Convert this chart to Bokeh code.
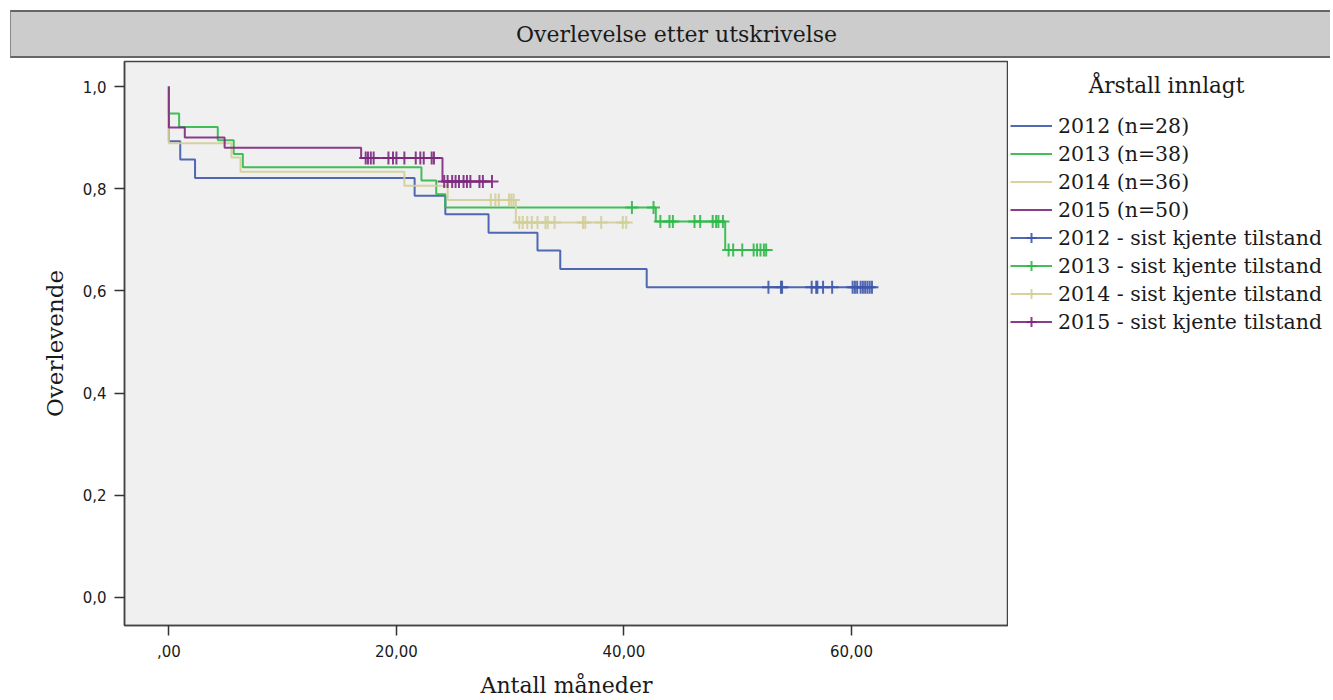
import numpy as np
from bokeh.plotting import figure
from bokeh.models import Legend, LegendItem, FixedTicker, Label, Range1d, Div
from bokeh.layouts import column, row
from bokeh.embed import file_html
from bokeh.resources import INLINE

# ---------------- data ----------------
groups = ["2012", "2013", "2014", "2015"]
n_counts = [28, 38, 36, 50]
colors = ["#3E58AC", "#2EB848", "#D3CE97", "#7C287D"]

# event (death) times in months and survival after each event
events_2012 = [0.0, 1.0, 2.3, 21.6, 24.3, 28.1, 32.4, 34.4, 42.0]
surv_2012 = [0.893, 0.857, 0.821, 0.786, 0.750, 0.714, 0.679, 0.643, 0.607]
censor_2012 = [52.7, 53.8, 53.9, 56.5, 56.9, 57.0, 57.5, 58.3, 60.1, 60.3,
               60.5, 60.8, 61.0, 61.2, 61.4, 61.6, 61.8]

events_2013 = [0.0, 0.9, 4.3, 5.7, 6.5, 22.2, 23.5, 24.3, 42.8, 48.9]
surv_2013 = [0.947, 0.921, 0.895, 0.868, 0.842, 0.816, 0.789, 0.763, 0.736, 0.680]
censor_2013 = [40.7, 42.6, 43.2, 44.0, 44.3, 46.2, 46.7, 47.8, 48.1, 48.3,
               48.7, 49.2, 49.6, 50.4, 51.4, 51.7, 52.0, 52.3, 52.5]

events_2014 = [0.0, 5.5, 6.3, 20.7, 24.5, 30.5]
surv_2014 = [0.889, 0.861, 0.833, 0.806, 0.778, 0.734]
censor_2014 = [28.3, 28.7, 29.0, 29.9, 30.1, 30.3, 30.8, 31.1, 31.5, 31.9,
               32.4, 33.1, 33.3, 33.9, 36.4, 36.6, 38.0, 39.9, 40.2]

events_2015 = [0.0, 1.4, 4.9, 16.9, 24.05]
surv_2015 = [0.920, 0.900, 0.880, 0.860, 0.814]
censor_2015 = [17.3, 17.5, 17.75, 18.0, 19.3, 19.7, 20.0, 20.7, 21.7, 22.1,
               22.4, 23.1, 23.3, 24.2, 24.5, 24.9, 25.2, 25.5, 25.9, 26.2,
               26.5, 27.3, 27.6, 28.4]

events = [events_2012, events_2013, events_2014, events_2015]
survs = [surv_2012, surv_2013, surv_2014, surv_2015]
censors = [censor_2012, censor_2013, censor_2014, censor_2015]

y_ticks = [0.0, 0.2, 0.4, 0.6, 0.8, 1.0]
y_tick_labels = ["0,0", "0,2", "0,4", "0,6", "0,8", "1,0"]
x_ticks = [0, 20, 40, 60]
x_tick_labels = [",00", "20,00", "40,00", "60,00"]

title_text = "Overlevelse etter utskrivelse"
x_label = "Antall måneder"
y_label = "Overlevende"
legend_title = "Årstall innlagt"

SERIF = "DejaVu Serif"
SANS = "DejaVu Sans"

# ---------------- header band ----------------
header = Div(text=title_text, width=1320, height=48, margin=(10, 0, 0, 10),
             styles={"background-color": "#cccccc",
                     "border-top": "2px solid #666666",
                     "border-bottom": "2px solid #666666",
                     "border-left": "1px solid #888888",
                     "box-sizing": "border-box",
                     "text-align": "center",
                     "font-family": SERIF,
                     "font-size": "22px",
                     "line-height": "46px",
                     "color": "#1a1a1a",
                     "padding-left": "12px"})

# ---------------- main plot ----------------
TOP, BOTTOM = 3, 75
p = figure(width=1008, height=642, x_range=Range1d(-3.9, 73.8),
           y_range=Range1d(-0.055, 1.049), toolbar_location=None,
           output_backend="svg", min_border_left=124, min_border_right=0,
           min_border_top=TOP, min_border_bottom=BOTTOM, margin=0)
p.grid.visible = False
p.background_fill_color = "#f0f0f0"
p.border_fill_color = "white"
p.outline_line_color = "#444444"
p.outline_line_width = 1.5

for ev, sv, cs, col in zip(events, survs, censors, colors):
    last = max(cs)
    t = [0.0] + list(ev) + [last]
    s = [1.0] + list(sv) + [sv[-1]]
    p.step(x=t, y=s, mode="after", line_color=col, line_width=2, line_alpha=0.9)
    idx = np.searchsorted(np.array(ev), np.array(cs), side="right") - 1
    cy = [sv[i] for i in idx]
    p.scatter(x=cs, y=cy, marker="cross", size=13, line_color=col,
              line_width=2, line_alpha=0.9)

p.xaxis.ticker = FixedTicker(ticks=x_ticks)
p.yaxis.ticker = FixedTicker(ticks=y_ticks)
p.xaxis.major_label_overrides = dict(zip(x_ticks, x_tick_labels))
p.yaxis.major_label_overrides = dict(zip(y_ticks, y_tick_labels))
p.axis.minor_tick_line_color = None
p.axis.major_tick_in = 0
p.axis.major_tick_out = 10
p.axis.major_tick_line_color = "#333333"
p.axis.major_tick_line_width = 1.5
p.axis.axis_line_color = "#444444"
p.axis.axis_line_width = 1.5
p.axis.major_label_text_font = SANS
p.axis.major_label_text_font_size = "15px"
p.axis.major_label_text_color = "#1a1a1a"
p.xaxis.major_label_standoff = 9
p.yaxis.major_label_standoff = 8
p.xaxis.axis_label = x_label
p.yaxis.axis_label = y_label
p.axis.axis_label_text_font = SERIF
p.axis.axis_label_text_font_style = "normal"
p.axis.axis_label_text_color = "#1a1a1a"
p.xaxis.axis_label_text_font_size = "22px"
p.yaxis.axis_label_text_font_size = "23px"
p.xaxis.axis_label_standoff = 13
p.yaxis.axis_label_standoff = 12

# ---------------- legend panel (separate canvas to the right) ----------------
LW = 322
lf = figure(width=LW, height=642, x_range=Range1d(0, LW), y_range=Range1d(0, 564),
            x_axis_type=None, y_axis_type=None, toolbar_location=None,
            output_backend="svg", min_border_left=0, min_border_right=0,
            min_border_top=TOP, min_border_bottom=BOTTOM, margin=0)
lf.grid.visible = False
lf.outline_line_color = None
lf.background_fill_color = "white"
lf.border_fill_color = "white"

# legend-only renderers (one undrawn NaN row each, so the legend can style its glyphs)
items = []
leg_steps, leg_cens = [], []
for col in colors:
    leg_steps.append(lf.step(x=[np.nan, np.nan], y=[np.nan, np.nan], mode="after",
                             line_color=col, line_width=2, line_alpha=0.9))
    leg_cens.append(lf.scatter(x=[np.nan], y=[np.nan], marker="cross", size=13,
                               line_color=col, line_width=2, line_alpha=0.9))
for g, n, r in zip(groups, n_counts, leg_steps):
    items.append(LegendItem(label=f"{g} (n={n})", renderers=[r]))
for g, r, c in zip(groups, leg_steps, leg_cens):
    items.append(LegendItem(label=f"{g} - sist kjente tilstand", renderers=[r, c]))

legend = Legend(items=items, location=(2, 291),
                label_text_font=SERIF,
                label_text_font_size="20.5px", label_text_color="#1a1a1a",
                glyph_width=42, glyph_height=25, label_height=25, spacing=3,
                label_standoff=6, padding=0, margin=0,
                border_line_color=None, background_fill_alpha=0)
lf.add_layout(legend)
lf.add_layout(Label(x=158, y=540, text=legend_title, text_align="center",
                    text_baseline="middle", text_font=SERIF,
                    text_font_size="21.5px", text_color="#1a1a1a"))

layout = column(header, row(p, lf, spacing=0), spacing=0)
open("out.html", "w").write(file_html(layout, INLINE))
